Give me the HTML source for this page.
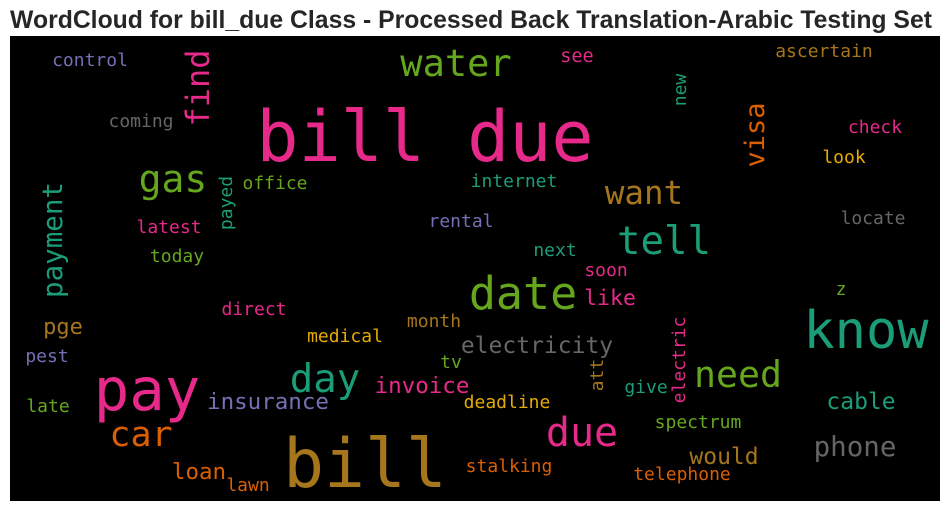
<!DOCTYPE html>
<html lang="en">
<head>
<meta charset="utf-8">
<title>WordCloud for bill_due Class</title>
<style>
html,body{margin:0;padding:0;background:#fff;width:950px;height:511px;overflow:hidden}
svg{display:block}
.w{filter:blur(0.35px)}
.w text{font-family:"DejaVu Sans Mono","Liberation Mono",monospace;text-anchor:middle}
</style>
</head>
<body>
<svg width="950" height="511" viewBox="0 0 950 511" xmlns="http://www.w3.org/2000/svg">
<text x="471" y="28" font-family="'Liberation Sans',Arial,sans-serif" font-weight="bold" font-size="24.75" fill="#262626" text-anchor="middle">WordCloud for bill_due Class - Processed Back Translation-Arabic Testing Set</text>
<rect x="10" y="36" width="930" height="465" fill="#000"/>
<g class="w">
<text x="90" y="66" font-size="18" fill="#7570b3">control</text>
<text x="141" y="127" font-size="18" fill="#666666">coming</text>
<text x="425" y="161" font-size="70" fill="#e7298a">bill due</text>
<text x="456" y="76" font-size="37" fill="#66a61e">water</text>
<text x="577" y="62" font-size="18.5" fill="#e7298a">see</text>
<text x="824" y="57" font-size="18" fill="#a6761d">ascertain</text>
<text x="173" y="192" font-size="38" fill="#66a61e">gas</text>
<text x="275" y="189" font-size="18" fill="#66a61e">office</text>
<text x="514" y="187" font-size="18" fill="#1b9e77">internet</text>
<text x="644" y="204" font-size="32.5" fill="#a6761d">want</text>
<text x="875" y="133" font-size="18" fill="#e7298a">check</text>
<text x="844" y="163" font-size="18" fill="#e6ab02">look</text>
<text x="873" y="224" font-size="18" fill="#666666">locate</text>
<text x="664" y="254" font-size="39" fill="#1b9e77">tell</text>
<text x="169" y="233" font-size="18" fill="#e7298a">latest</text>
<text x="461" y="227" font-size="18" fill="#7570b3">rental</text>
<text x="177" y="262" font-size="18" fill="#66a61e">today</text>
<text x="555" y="256" font-size="18" fill="#1b9e77">next</text>
<text x="606" y="276" font-size="18" fill="#e7298a">soon</text>
<text x="610" y="305" font-size="21.5" fill="#e7298a">like</text>
<text x="523" y="309" font-size="45" fill="#66a61e">date</text>
<text x="841" y="295" font-size="18" fill="#66a61e">z</text>
<text x="866" y="348" font-size="52" fill="#1b9e77">know</text>
<text x="254" y="315" font-size="18" fill="#e7298a">direct</text>
<text x="63" y="334" font-size="22" fill="#a6761d">pge</text>
<text x="345" y="342" font-size="18" fill="#e6ab02">medical</text>
<text x="434" y="327" font-size="18" fill="#a6761d">month</text>
<text x="537" y="353" font-size="23" fill="#666666">electricity</text>
<text x="451" y="368" font-size="18" fill="#66a61e">tv</text>
<text x="47" y="362" font-size="18" fill="#7570b3">pest</text>
<text x="147" y="410" font-size="59" fill="#e7298a">pay</text>
<text x="325" y="392" font-size="39" fill="#1b9e77">day</text>
<text x="422" y="393" font-size="22.5" fill="#e7298a">invoice</text>
<text x="268" y="409" font-size="22.5" fill="#7570b3">insurance</text>
<text x="507" y="408" font-size="18" fill="#e6ab02">deadline</text>
<text x="738" y="387" font-size="36.5" fill="#66a61e">need</text>
<text x="646" y="393" font-size="18" fill="#1b9e77">give</text>
<text x="861" y="409" font-size="23" fill="#1b9e77">cable</text>
<text x="698" y="428" font-size="18" fill="#66a61e">spectrum</text>
<text x="48" y="412" font-size="18" fill="#66a61e">late</text>
<text x="141" y="446" font-size="35" fill="#d95f02">car</text>
<text x="582" y="446" font-size="40" fill="#e7298a">due</text>
<text x="365" y="487" font-size="68" fill="#a6761d">bill</text>
<text x="855" y="456" font-size="27.5" fill="#666666">phone</text>
<text x="724" y="464" font-size="23" fill="#a6761d">would</text>
<text x="199" y="479" font-size="22.5" fill="#d95f02">loan</text>
<text x="248" y="491" font-size="18" fill="#d95f02">lawn</text>
<text x="509" y="472" font-size="18" fill="#d95f02">stalking</text>
<text x="682" y="480" font-size="18" fill="#d95f02">telephone</text>
<text transform="translate(209,88) rotate(-90)" font-size="32" fill="#e7298a">find</text>
<text transform="translate(62,240) rotate(-90)" font-size="27.5" fill="#1b9e77">payment</text>
<text transform="translate(232,203) rotate(-90)" font-size="18" fill="#1b9e77">payed</text>
<text transform="translate(686,90) rotate(-90)" font-size="18" fill="#1b9e77">new</text>
<text transform="translate(764,135) rotate(-90)" font-size="27" fill="#d95f02">visa</text>
<text transform="translate(685,360) rotate(-90)" font-size="18" fill="#e7298a">electric</text>
<text transform="translate(603,375) rotate(-90)" font-size="18" fill="#a6761d">att</text>
</g>
</svg>
</body>
</html>
